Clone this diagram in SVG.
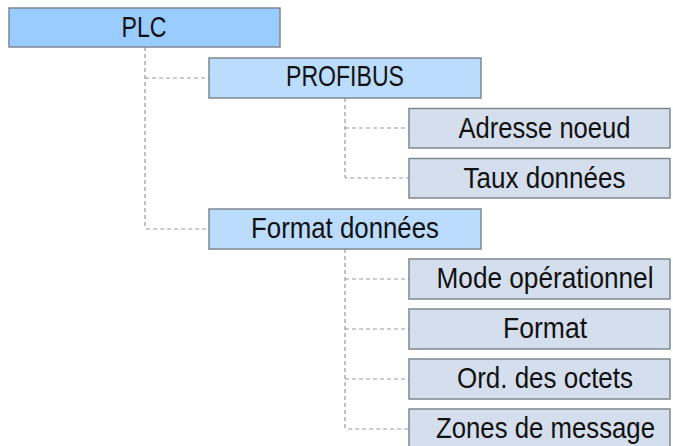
<svg xmlns="http://www.w3.org/2000/svg" width="673" height="446" viewBox="0 0 673 446">
<style>
.box{stroke:#7f8790;stroke-width:1.5}
.l0{fill:#99ccff}
.l1{fill:#bbdcfd}
.l2{fill:#d5deec}
text{font-family:"Liberation Sans",Arial,sans-serif;font-size:29px;fill:#111;text-anchor:middle}
.c{fill:none;stroke:#9a9a9a;stroke-width:1.2;stroke-dasharray:4 3}
</style>
<rect width="673" height="446" fill="#ffffff"/>
<g id="connectors">
<path class="c" d="M145 47 V227 Q145 229 147 229 H209"/>
<path class="c" d="M145 78 H209"/>
<path class="c" d="M345 98 V176 Q345 178 347 178 H409"/>
<path class="c" d="M345 128 H409"/>
<path class="c" d="M345 249 V427 Q345 429 347 429 H409"/>
<path class="c" d="M345 279 H409"/>
<path class="c" d="M345 329 H409"/>
<path class="c" d="M345 379 H409"/>
</g>
<g id="plc"><rect class="box l0" x="9" y="8" width="271" height="39"/><text x="144" y="37" textLength="45" lengthAdjust="spacingAndGlyphs">PLC</text></g>
<g id="profibus"><rect class="box l1" x="209" y="58" width="272" height="40"/><text x="345" y="86" textLength="118" lengthAdjust="spacingAndGlyphs">PROFIBUS</text></g>
<g id="adresse"><rect class="box l2" x="409" y="108.5" width="261" height="39.5"/><text x="544.5" y="137.5" textLength="172" lengthAdjust="spacingAndGlyphs">Adresse noeud</text></g>
<g id="taux"><rect class="box l2" x="409" y="158.5" width="261" height="39.5"/><text x="544.5" y="187.5" textLength="162" lengthAdjust="spacingAndGlyphs">Taux données</text></g>
<g id="format-donnees"><rect class="box l1" x="209" y="209" width="272" height="40"/><text x="345" y="237.5" textLength="188" lengthAdjust="spacingAndGlyphs">Format données</text></g>
<g id="mode"><rect class="box l2" x="409" y="259" width="261" height="40"/><text x="545" y="287.5" textLength="217" lengthAdjust="spacingAndGlyphs">Mode opérationnel</text></g>
<g id="format"><rect class="box l2" x="409" y="309" width="261" height="40"/><text x="545" y="337.5" textLength="84" lengthAdjust="spacingAndGlyphs">Format</text></g>
<g id="ord"><rect class="box l2" x="409" y="359" width="261" height="40"/><text x="545" y="387.5" textLength="176" lengthAdjust="spacingAndGlyphs">Ord. des octets</text></g>
<g id="zones"><rect class="box l2" x="409" y="409" width="261" height="42"/><text x="545.5" y="437.5" textLength="219" lengthAdjust="spacingAndGlyphs">Zones de message</text></g>
</svg>
